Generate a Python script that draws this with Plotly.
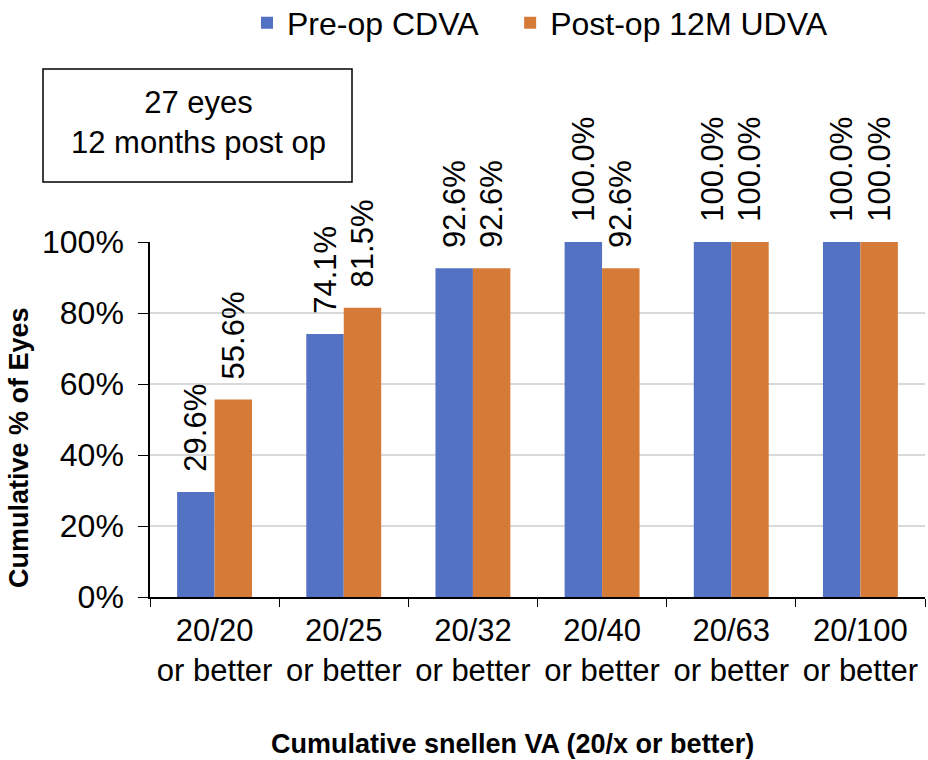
import plotly.graph_objects as go

categories = ["20/20<br>or better", "20/25<br>or better", "20/32<br>or better",
              "20/40<br>or better", "20/63<br>or better", "20/100<br>or better"]
pre_op = [29.6, 74.1, 92.6, 100.0, 100.0, 100.0]
post_op = [55.6, 81.5, 92.6, 92.6, 100.0, 100.0]
y_ticks = [0, 20, 40, 60, 80, 100]
y_tick_labels = ["0%", "20%", "40%", "60%", "80%", "100%"]

FONT = "Liberation Sans, Arial, sans-serif"
BLUE = "#5472C4"
ORANGE = "#D67B37"
NB = "\u00a0"

# plot area in pixels: x 150..925, y 242..597
L, R, T, B = 150, 3, 242, 163
PW, PH = 928 - L - R, 760 - T - B


def px(x):
    return (x - L) / PW


def py(y):
    return (760 - B - y) / PH


fig = go.Figure()
for name, vals, col in [("Pre-op CDVA" + NB * 3, pre_op, BLUE), ("Post-op 12M UDVA", post_op, ORANGE)]:
    fig.add_trace(go.Bar(
        x=categories, y=vals, name=name, marker_color=col, marker_line_width=0,
        text=[NB * 2 + f"{v:.1f}%" for v in vals], textposition="outside", textangle=-90,
        textfont=dict(size=31, color="black", family=FONT),
        cliponaxis=False, constraintext="none",
    ))

fig.update_layout(
    width=928, height=760,
    margin=dict(l=L, r=R, t=T, b=B, autoexpand=False),
    paper_bgcolor="white", plot_bgcolor="white",
    barmode="group", bargap=0.42, bargroupgap=0,
    font=dict(family=FONT, color="black"),
    legend=dict(orientation="h", x=px(247), xanchor="left", y=py(23), yanchor="middle",
                font=dict(size=32), itemwidth=30, traceorder="normal"),
    showlegend=True,
)
fig.update_yaxes(
    range=[0, 100], tickvals=y_ticks, ticktext=y_tick_labels, automargin=False,
    tickfont=dict(size=32), ticks="outside", ticklen=10, tickcolor="black",
    ticklabelstandoff=8,
    showline=True, linecolor="black", linewidth=1.5,
    showgrid=True, gridcolor="#D9D9D9", gridwidth=1.5, zeroline=False,
)
fig.update_xaxes(
    tickfont=dict(size=31), ticks="outside", ticklen=8, tickcolor="black", automargin=False,
    ticklabelstandoff=5,
    tickson="boundaries", showline=True, linecolor="black", linewidth=1.5,
)
fig.add_annotation(xref="paper", yref="paper", x=px(19), y=py(448), textangle=-90,
                   text="<b>Cumulative % of Eyes</b>", showarrow=False,
                   font=dict(size=27), xanchor="center", yanchor="middle")
fig.add_annotation(xref="paper", yref="paper", x=px(512), y=py(744),
                   text="<b>Cumulative snellen VA (20/x or better)</b>", showarrow=False,
                   font=dict(size=27), xanchor="center", yanchor="middle")
fig.add_shape(type="rect", xref="paper", yref="paper",
              x0=px(43), x1=px(352), y0=py(182), y1=py(69),
              line=dict(color="black", width=1.5), fillcolor="white")
fig.add_annotation(xref="paper", yref="paper", x=px(198), y=py(122),
                   text="27 eyes<br>12 months post op", showarrow=False,
                   font=dict(size=31), align="center", xanchor="center", yanchor="middle")

fig.write_html("out.html", config={"displayModeBar": False},
               post_script="document.body.style.margin='0';document.body.style.overflow='hidden';")
